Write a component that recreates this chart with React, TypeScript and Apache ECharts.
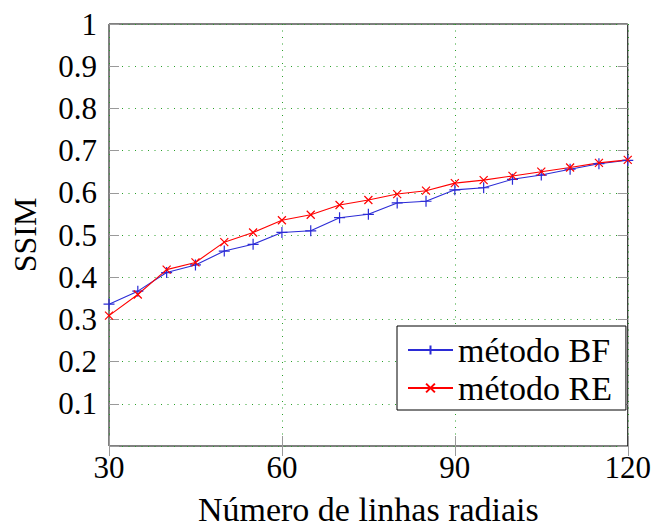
import React, { useEffect, useRef } from "react";
import * as echarts from "echarts";

const xValues = [30, 35, 40, 45, 50, 55, 60, 65, 70, 75, 80, 85, 90, 95, 100, 105, 110, 115, 120];
const bfValues = [0.336, 0.367, 0.411, 0.429, 0.462, 0.478, 0.506, 0.51, 0.541, 0.549, 0.576, 0.58, 0.607, 0.612, 0.632, 0.642, 0.656, 0.669, 0.677];
const reValues = [0.309, 0.359, 0.418, 0.435, 0.483, 0.506, 0.535, 0.548, 0.571, 0.583, 0.597, 0.605, 0.623, 0.63, 0.64, 0.65, 0.66, 0.671, 0.678];
const seriesNames = ["método BF", "método RE"];
const xName = "Número de linhas radiais";
const yName = "SSIM";

const FONT = "Liberation Serif";
const BLUE = "#2b2bd6";
const RED = "#ff0000";
const GRID_GREEN = "#2aa02a";
const TICK_GREY = "#9a9a9a";

export default function App() {
  const ref = useRef<HTMLDivElement>(null);

  useEffect(() => {
    if (!ref.current) return;
    const chart = echarts.init(ref.current, undefined, { renderer: "svg" });
    const splitLine = { show: true, lineStyle: { color: GRID_GREEN, width: 1, type: [1, 5.5] as any } };
    const tick = { show: true, inside: true, length: 10, lineStyle: { color: TICK_GREY, width: 1 } };
    const fmtY = (v: number) => (Math.abs(v) < 1e-9 ? "" : String(Number(v.toFixed(1))));
    chart.setOption({
      animation: false,
      backgroundColor: "#ffffff",
      grid: {
        left: 109,
        top: 24,
        width: 519,
        height: 430,
        show: true,
        borderColor: "#000000",
        borderWidth: 1,
        backgroundColor: "transparent",
      },
      xAxis: [
        {
          type: "value",
          min: 30,
          max: 120,
          interval: 30,
          position: "bottom",
          axisLine: { show: false },
          axisTick: tick,
          splitLine,
          axisLabel: { fontFamily: FONT, fontSize: 31, color: "#000", margin: 6 },
          name: xName,
          nameLocation: "middle",
          nameGap: 46,
          nameTextStyle: { fontFamily: FONT, fontSize: 34, color: "#000" },
        },
        {
          type: "value",
          min: 30,
          max: 120,
          interval: 30,
          position: "top",
          axisLine: { show: false },
          axisTick: tick,
          splitLine: { show: false },
          axisLabel: { show: false },
        },
      ],
      yAxis: [
        {
          type: "value",
          min: 0,
          max: 1,
          interval: 0.1,
          position: "left",
          axisLine: { show: false },
          axisTick: tick,
          splitLine,
          axisLabel: { fontFamily: FONT, fontSize: 31, color: "#000", margin: 12, formatter: fmtY },
          name: yName,
          nameLocation: "middle",
          nameGap: 68,
          nameTextStyle: { fontFamily: FONT, fontSize: 32, color: "#000" },
        },
        {
          type: "value",
          min: 0,
          max: 1,
          interval: 0.1,
          position: "right",
          axisLine: { show: false },
          axisTick: tick,
          splitLine: { show: false },
          axisLabel: { show: false },
        },
      ],
      legend: {
        orient: "vertical",
        left: 397,
        top: 326,
        padding: [7, 14, 5, 10],
        itemGap: 4,
        itemWidth: 45,
        itemHeight: 11,
        backgroundColor: "#ffffff",
        borderColor: "#000000",
        borderWidth: 1,
        borderRadius: 0,
        textStyle: { fontFamily: FONT, fontSize: 34, color: "#000", lineHeight: 34 },
        data: seriesNames,
      },
      series: [
        {
          name: seriesNames[0],
          type: "line",
          data: xValues.map((x, i) => [x, bfValues[i]]),
          symbol: "path://M5,0L5,10M0,5L10,5",
          symbolSize: 11,
          showSymbol: true,
          color: BLUE,
          lineStyle: { color: BLUE, width: 1.1 },
          itemStyle: { color: BLUE, borderColor: BLUE, borderWidth: 1.2 },
          emphasis: { disabled: true },
        },
        {
          name: seriesNames[1],
          type: "line",
          data: xValues.map((x, i) => [x, reValues[i]]),
          symbol: "path://M0,0L10,10M10,0L0,10",
          symbolSize: 8,
          showSymbol: true,
          color: RED,
          lineStyle: { color: RED, width: 1.1 },
          itemStyle: { color: RED, borderColor: RED, borderWidth: 1.2 },
          emphasis: { disabled: true },
        },
      ],
    });
    return () => chart.dispose();
  }, []);

  return (
    <div
      ref={ref}
      style={{ position: "fixed", left: 0, top: 0, width: 654, height: 531, background: "#fff" }}
    />
  );
}
